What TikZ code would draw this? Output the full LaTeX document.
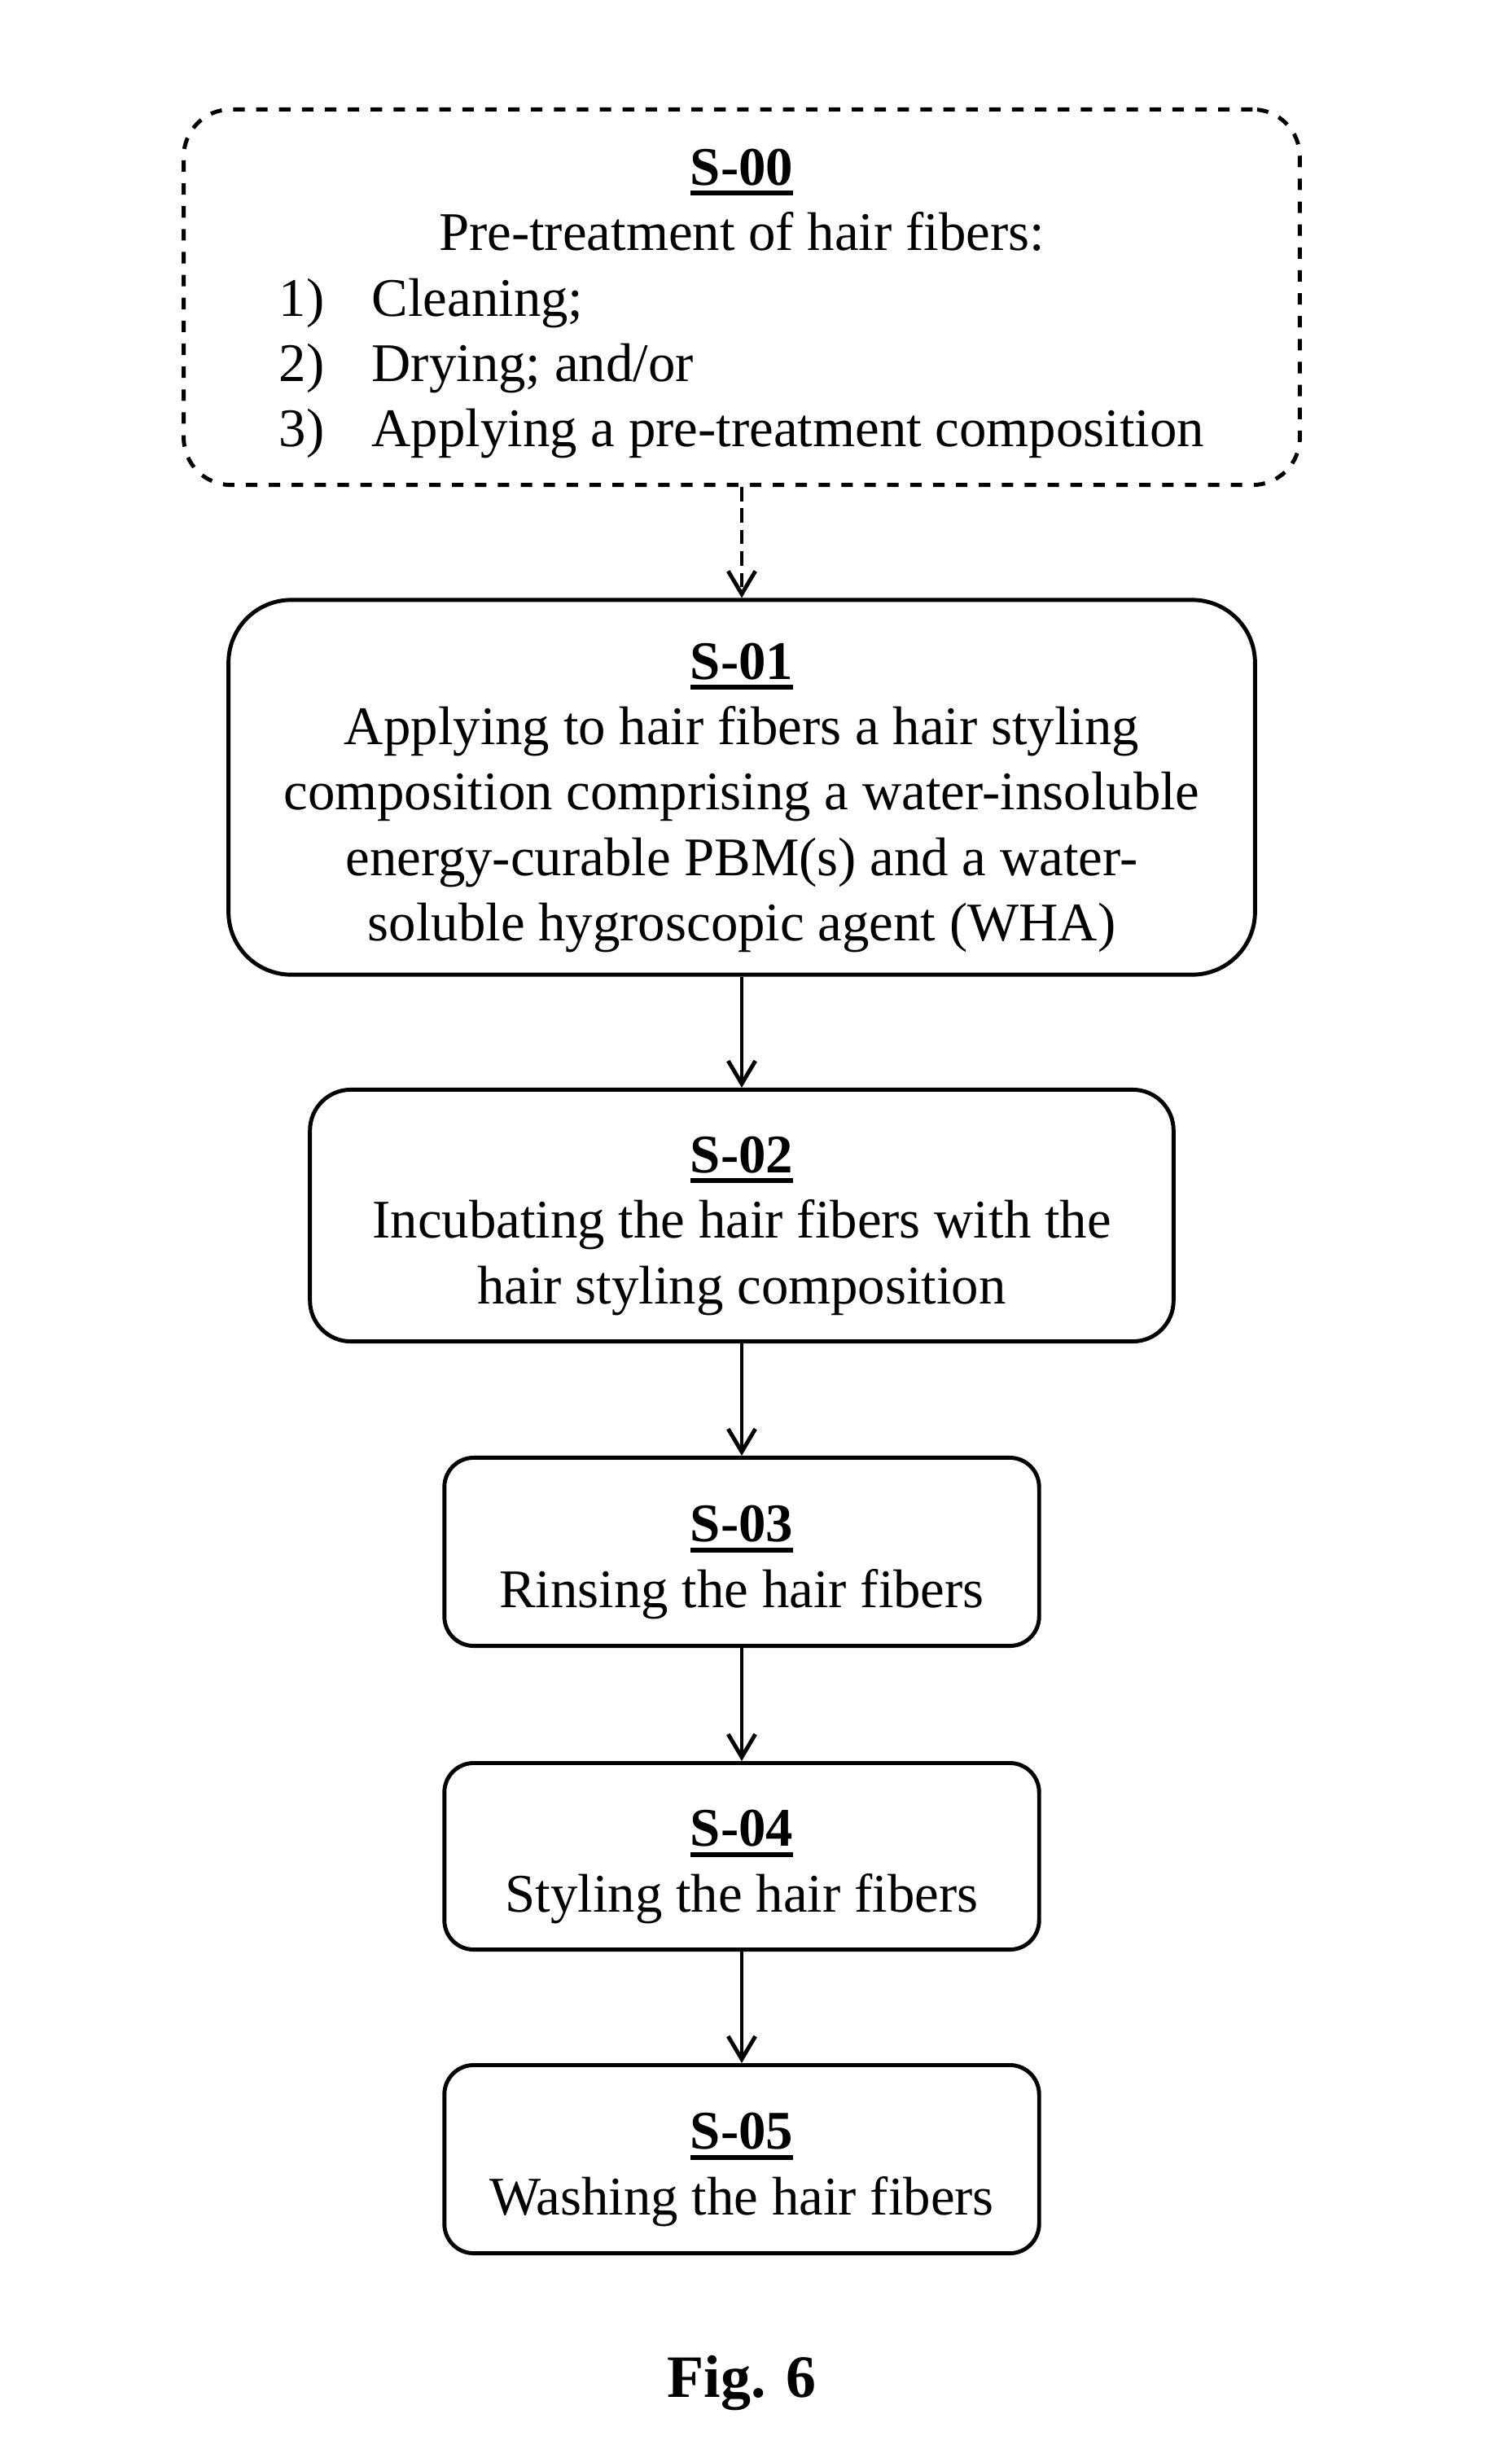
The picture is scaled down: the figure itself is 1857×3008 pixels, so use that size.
\documentclass[tikz,border=0pt]{standalone}
\usepackage{fontspec}
\setmainfont{Liberation Serif}
\usepackage{tikz}
\usetikzlibrary{arrows.meta}

\tikzset{
  stepbox/.style={draw, line width=1.4pt, align=center, inner sep=0pt,
    font=\fontsize{19}{22.8}\selectfont},
  flowline/.style={line width=1.4pt, -{Straight Barb[length=8pt,width=9.5pt,line width=1.4pt]}}
}
\newcommand{\steplabel}[1]{\rule{0pt}{20pt}\vtop{\hbox{\textbf{#1}}\kern1.7pt\hrule height 1.7pt}}

\begin{document}
\begin{tikzpicture}[x=0.01cm,y=-0.01cm]
   \useasboundingbox (0,0) rectangle (1857,3008);

   \draw (911,365) node[stepbox, dash pattern=on 4pt off 4pt, rounded corners=0.58cm,
        minimum width=13.70cm, minimum height=4.61cm] (s00)
        {\steplabel{S-00}\\ Pre-treatment of hair fibers:\\
         \begin{tabular}[t]{@{}l@{\hspace{0.58cm}}l@{}}
         1) & Cleaning;\\
         2) & Drying; and/or\\
         3) & Applying a pre-treatment composition
         \end{tabular}};
   \draw (911,967) node[stepbox, rounded corners=0.77cm,
        minimum width=12.60cm, minimum height=4.60cm] (s01)
        {\steplabel{S-01}\\ Applying to hair fibers a hair styling\\
         composition comprising a water-insoluble\\
         energy-curable PBM(s) and a water-\\
         soluble hygroscopic agent (WHA)};
   \draw (911,1493) node[stepbox, rounded corners=0.5cm,
        minimum width=10.60cm, minimum height=3.09cm] (s02)
        {\steplabel{S-02}\\ Incubating the hair fibers with the\\ hair styling composition};
   \draw (911,1906) node[stepbox, rounded corners=0.36cm,
        minimum width=7.30cm, minimum height=2.31cm] (s03)
        {\steplabel{S-03}\\ Rinsing the hair fibers};
   \draw (911,2280) node[stepbox, rounded corners=0.36cm,
        minimum width=7.30cm, minimum height=2.29cm] (s04)
        {\steplabel{S-04}\\ Styling the hair fibers};
   \draw (911,2652) node[stepbox, rounded corners=0.36cm,
        minimum width=7.30cm, minimum height=2.31cm] (s05)
        {\steplabel{S-05}\\ Washing the hair fibers};
   \draw (911,2927) node[font=\fontsize{21}{25}\selectfont\bfseries] (fig) {Fig. 6};

   \draw[flowline, dash pattern=on 5pt off 2.5pt] (s00) -- (s01);
   \draw[flowline] (s01) -- (s02);
   \draw[flowline] (s02) -- (s03);
   \draw[flowline] (s03) -- (s04);
   \draw[flowline] (s04) -- (s05);

\end{tikzpicture}
\end{document}
